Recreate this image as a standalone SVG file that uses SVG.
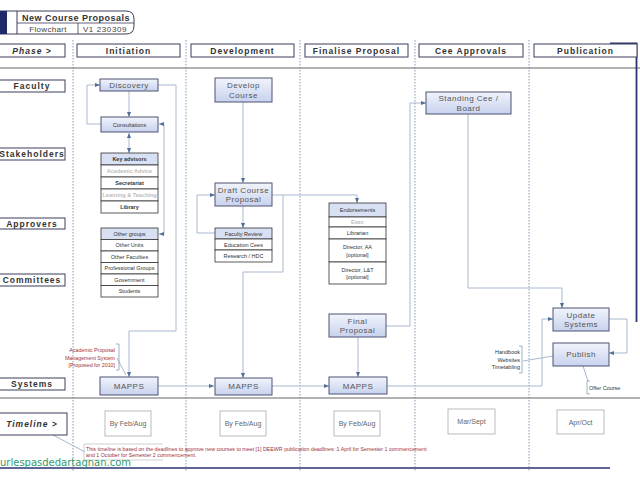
<svg xmlns="http://www.w3.org/2000/svg" width="640" height="480" viewBox="0 0 640 480">
<defs>
<linearGradient id="ng" x1="0" y1="0" x2="0" y2="1">
<stop offset="0" stop-color="#f1f4fc"/>
<stop offset="1" stop-color="#c8d2ee"/>
</linearGradient>
<marker id="arr" viewBox="0 0 10 10" refX="10" refY="5" markerWidth="5" markerHeight="5" orient="auto-start-reverse">
<path d="M0,1 L10,5 L0,9 z" fill="#4e6f98"/>
</marker>
<style>
.lbl{fill:#fff;stroke:#3a3d5c;stroke-width:1}
.lt{font-family:"Liberation Sans",Arial,sans-serif;font-weight:bold;font-size:8.5px;fill:#333;letter-spacing:1px;text-anchor:middle}
.node{fill:url(#ng);stroke:#4f5373;stroke-width:1}
.nt{font-family:"Liberation Sans",Arial,sans-serif;font-size:8px;fill:#555;text-anchor:middle;letter-spacing:0.5px}
.st{fill:#fff;stroke:#333;stroke-width:0.8}
.sh{fill:#d8e0f4;stroke:#333;stroke-width:0.8}
.sx{font-family:"Liberation Sans",Arial,sans-serif;font-size:5.5px;fill:#333;text-anchor:middle}
.fx{font-family:"Liberation Sans",Arial,sans-serif;font-size:5.5px;fill:#bbb;text-anchor:middle;font-weight:bold}
.sep{stroke:#6a7fa0;stroke-width:0.8;stroke-dasharray:1.5,1.5;fill:none}
.hl{stroke:#999;stroke-width:1.5;fill:none}
.c{fill:none;stroke:#a7b9cf;stroke-width:1}
.ca{fill:none;stroke:#a7b9cf;stroke-width:1;marker-end:url(#arr)}
.tl{fill:#fff;stroke:#aaa;stroke-width:0.8}
.tt{font-family:"Liberation Sans",Arial,sans-serif;font-size:7px;fill:#666;text-anchor:middle}
.red{font-family:"Liberation Sans",Arial,sans-serif;font-size:5.3px;fill:#a0303a}
.small{font-family:"Liberation Sans",Arial,sans-serif;font-size:5.5px;fill:#333}
</style>
</defs>
<rect width="640" height="480" fill="#fff"/>

<g id="header">
<path d="M0,11 H126 Q134,11 134,19 V26 Q134,34 126,34 H0 Z" fill="#fff" stroke="#3a3d5c" stroke-width="1"/>
<rect x="0" y="11" width="7" height="23" fill="#1f2a6b"/>
<line x1="17" y1="11" x2="17" y2="34" stroke="#3a3d5c"/>
<line x1="17" y1="23" x2="134" y2="23" stroke="#3a3d5c" stroke-width="0.8"/>
<line x1="78" y1="23" x2="78" y2="34" stroke="#3a3d5c" stroke-width="0.8"/>
<text x="76" y="20.5" font-family="Liberation Sans,Arial,sans-serif" font-weight="bold" font-size="9px" fill="#333" text-anchor="middle" letter-spacing="0.5">New Course Proposals</text>
<text x="48" y="31.5" font-family="Liberation Sans,Arial,sans-serif" font-size="8px" fill="#444" text-anchor="middle" letter-spacing="0.3">Flowchart</text>
<text x="105" y="31.5" font-family="Liberation Sans,Arial,sans-serif" font-size="8px" fill="#444" text-anchor="middle" letter-spacing="0.6">V1 230309</text>
</g>

<g id="grid">
<line x1="0" y1="68" x2="640" y2="68" class="hl"/>
<line x1="0" y1="398" x2="640" y2="398" class="hl"/>
<line x1="0" y1="468" x2="610" y2="468" stroke="#2a3272" stroke-width="1.5"/>
<line x1="73" y1="40" x2="73" y2="472" class="sep"/>
<line x1="186" y1="40" x2="186" y2="472" class="sep"/>
<line x1="300" y1="40" x2="300" y2="472" class="sep"/>
<line x1="415" y1="40" x2="415" y2="472" class="sep"/>
<line x1="529" y1="40" x2="529" y2="472" class="sep"/>
<path d="M610,43.5 H636.5 V322" fill="none" stroke="#2a3272" stroke-width="1.8"/>
</g>

<g id="phases">
<rect class="lbl" x="-1" y="44" width="66" height="13"/>
<text class="lt" x="32" y="53.5" font-style="italic">Phase &gt;</text>
<rect class="lbl" x="77" y="44" width="103" height="13"/>
<text class="lt" x="128.5" y="53.5">Initiation</text>
<rect class="lbl" x="191" y="44" width="103" height="13"/>
<text class="lt" x="242.5" y="53.5">Development</text>
<rect class="lbl" x="305" y="44" width="103" height="13"/>
<text class="lt" x="356.5" y="53.5">Finalise Proposal</text>
<rect class="lbl" x="419" y="44" width="104" height="13"/>
<text class="lt" x="471" y="53.5">Cee Approvals</text>
<rect class="lbl" x="534" y="44" width="103" height="13"/>
<text class="lt" x="585.5" y="53.5">Publication</text>
</g>

<g id="rows">
<rect class="lbl" x="-1" y="80" width="66" height="12"/>
<text class="lt" x="32" y="89">Faculty</text>
<rect class="lbl" x="-1" y="148" width="66" height="12"/>
<text class="lt" x="32" y="157">Stakeholders</text>
<rect class="lbl" x="-1" y="218" width="66" height="11"/>
<text class="lt" x="32" y="226.5">Approvers</text>
<rect class="lbl" x="-1" y="274" width="66" height="12"/>
<text class="lt" x="32" y="283">Committees</text>
<rect class="lbl" x="-1" y="378" width="66" height="12"/>
<text class="lt" x="32" y="387">Systems</text>
</g>

<g id="connectors">
<path class="ca" d="M101,124 H87 V85 H100"/>
<path class="ca" d="M129,91 V117"/>
<path class="ca" d="M129,133 V153" marker-start="url(#arr)"/>
<path class="ca" d="M159,124 H164 V234 H159" marker-start="url(#arr)"/>
<path class="ca" d="M158,85 H176 V331 H129 V377"/>
<path class="c" d="M117,358 L126,375" stroke="#7a8fa8"/>
<path class="ca" d="M158,386 H214"/>
<path class="ca" d="M243,102 V183"/>
<path class="ca" d="M243,206 V228"/>
<path class="ca" d="M215,233 H197 V195 H215"/>
<path class="ca" d="M272,195 H283 V272 H243 V378"/>
<path class="ca" d="M283,195 H357 V203"/>
<path class="ca" d="M272,386 H329"/>
<path class="ca" d="M358,337 V377"/>
<path class="ca" d="M386,326 H410 V103 H426"/>
<path class="ca" d="M468,114 V288 H562 V308"/>
<path class="ca" d="M387,386 H542 V319 H553"/>
<path class="ca" d="M609,319 H627 V353 H609"/>
<path class="c" d="M553,356 L523,361" stroke="#7a8fa8"/>
<path class="c" d="M583,366 L588,381" stroke="#7a8fa8"/>
<path class="c" d="M53,435 L85,452" stroke="#7a8fa8"/>
</g>

<g id="discovery">
<rect class="node" x="100" y="79" width="58" height="12"/>
<text class="nt" x="129" y="88">Discovery</text>
</g>
<g id="consultations">
<rect class="node" x="101" y="117" width="57" height="15"/>
<text class="sx" x="129.5" y="126.5">Consultations</text>
</g>
<g id="key-advisors">
<rect class="sh" x="101" y="153" width="57" height="12"/>
<text class="sx" x="129.5" y="161" font-weight="bold">Key advisors</text>
<rect class="st" x="101" y="165" width="57" height="12"/>
<text class="fx" x="129.5" y="173">Academic Advice</text>
<rect class="st" x="101" y="177" width="57" height="12"/>
<text class="sx" x="129.5" y="185" font-weight="bold">Secretariat</text>
<rect class="st" x="101" y="189" width="57" height="12"/>
<text class="fx" x="129.5" y="197">Learning &amp; Teaching</text>
<rect class="st" x="101" y="201" width="57" height="12"/>
<text class="sx" x="129.5" y="209" font-weight="bold">Library</text>
</g>
<g id="other-groups">
<rect class="sh" x="101" y="228" width="57" height="11.5"/>
<text class="sx" x="129.5" y="235.8">Other groups</text>
<rect class="st" x="101" y="239.5" width="57" height="11.5"/>
<text class="sx" x="129.5" y="247.3">Other Units</text>
<rect class="st" x="101" y="251" width="57" height="11.5"/>
<text class="sx" x="129.5" y="258.8">Other Faculties</text>
<rect class="st" x="101" y="262.5" width="57" height="11.5"/>
<text class="sx" x="129.5" y="270.3">Professional Groups</text>
<rect class="st" x="101" y="274" width="57" height="11.5"/>
<text class="sx" x="129.5" y="281.8">Government</text>
<rect class="st" x="101" y="285.5" width="57" height="11.5"/>
<text class="sx" x="129.5" y="293.3">Students</text>
</g>
<g id="mapps-note">
<path d="M116,344 H119 V370 H116" fill="none" stroke="#7a8fa8" stroke-width="0.7"/>
<text class="red" x="115" y="352" text-anchor="end">Academic Proposal</text>
<text class="red" x="115" y="359.5" text-anchor="end">Management System</text>
<text class="red" x="115" y="367" text-anchor="end">[Proposed for 2010]</text>
</g>
<g id="mapps-1">
<rect class="node" x="100" y="377" width="58" height="18"/>
<text class="nt" x="129" y="389">MAPPS</text>
</g>

<g id="develop-course">
<rect class="node" x="215" y="78" width="57" height="24"/>
<text class="nt" x="243.5" y="88">Develop</text>
<text class="nt" x="243.5" y="97.5">Course</text>
</g>
<g id="draft-course-proposal">
<rect class="node" x="215" y="183" width="57" height="23"/>
<text class="nt" x="243.5" y="192.5">Draft Course</text>
<text class="nt" x="243.5" y="202">Proposal</text>
</g>
<g id="faculty-review">
<rect class="sh" x="215" y="228" width="57" height="11"/>
<text class="sx" x="243.5" y="235.5">Faculty Review</text>
<rect class="st" x="215" y="239" width="57" height="11"/>
<text class="sx" x="243.5" y="246.5">Education Cees</text>
<rect class="st" x="215" y="250" width="57" height="12"/>
<text class="sx" x="243.5" y="258">Research / HDC</text>
</g>
<g id="mapps-2">
<rect class="node" x="215" y="378" width="57" height="17"/>
<text class="nt" x="243.5" y="389">MAPPS</text>
</g>

<g id="endorsements">
<rect class="sh" x="329" y="203" width="57" height="14"/>
<text class="sx" x="357.5" y="212">Endorsements</text>
<rect class="st" x="329" y="217" width="57" height="10"/>
<text class="fx" x="357.5" y="224" font-weight="normal">Exec</text>
<rect class="st" x="329" y="227" width="57" height="12"/>
<text class="sx" x="357.5" y="235">Librarian</text>
<rect class="st" x="329" y="239" width="57" height="23"/>
<text class="sx" x="357.5" y="249">Director, AA</text>
<text class="sx" x="357.5" y="256.5">[optional]</text>
<rect class="st" x="329" y="262" width="57" height="22"/>
<text class="sx" x="357.5" y="271.5">Director, L&amp;T</text>
<text class="sx" x="357.5" y="279">[optional]</text>
</g>
<g id="final-proposal">
<rect class="node" x="329" y="314" width="57" height="23"/>
<text class="nt" x="357.5" y="323.5">Final</text>
<text class="nt" x="357.5" y="333">Proposal</text>
</g>
<g id="mapps-3">
<rect class="node" x="329" y="377" width="58" height="17"/>
<text class="nt" x="358" y="388.5">MAPPS</text>
</g>

<g id="standing-cee">
<rect class="node" x="426" y="92" width="85" height="22"/>
<text class="nt" x="468.5" y="101">Standing Cee  /</text>
<text class="nt" x="468.5" y="110.5">Board</text>
</g>

<g id="update-systems">
<rect class="node" x="553" y="308" width="56" height="23"/>
<text class="nt" x="581" y="317.5">Update</text>
<text class="nt" x="581" y="327">Systems</text>
</g>
<g id="publish">
<rect class="node" x="553" y="343" width="56" height="23"/>
<text class="nt" x="581" y="357">Publish</text>
</g>
<g id="handbook-note">
<path d="M519,346 H522 V373 H519" fill="none" stroke="#7a8fa8" stroke-width="0.7"/>
<text class="small" x="520" y="354" text-anchor="end">Handbook</text>
<text class="small" x="520" y="361.5" text-anchor="end">Websites</text>
<text class="small" x="520" y="369" text-anchor="end">Timetabling</text>
</g>
<g id="offer-course">
<path d="M590,381 H587 V394 H590" fill="none" stroke="#7a8fa8" stroke-width="0.7"/>
<text class="small" x="589" y="390">Offer Course</text>
</g>

<g id="timeline">
<rect class="lbl" x="-1" y="413" width="68" height="22"/>
<text class="lt" x="32" y="427" font-style="italic">Timeline &gt;</text>
<rect class="tl" x="105" y="411" width="46" height="25"/>
<text class="tt" x="128" y="426">By Feb/Aug</text>
<rect class="tl" x="220" y="411" width="46" height="25"/>
<text class="tt" x="243" y="426">By Feb/Aug</text>
<rect class="tl" x="334" y="411" width="46" height="25"/>
<text class="tt" x="357" y="426">By Feb/Aug</text>
<rect class="tl" x="448" y="409" width="47" height="25"/>
<text class="tt" x="471.5" y="424">Mar/Sept</text>
<rect class="tl" x="557" y="410" width="47" height="24"/>
<text class="tt" x="580.5" y="424.5">Apr/Oct</text>
</g>
<g id="timeline-note">
<path d="M163,444 H84 V460 H163" fill="none" stroke="#bbb" stroke-width="0.7"/>
<text class="red" x="86" y="450.5">This timeline is based on the deadlines to approve new courses to meet [1] DEEWR publication deadlines: 1 April for Semester 1 commencement</text>
<text class="red" x="86" y="457">and 1 October for Semester 2 commencement.</text>
</g>
<text x="0" y="466" font-family="DejaVu Sans,sans-serif" font-size="10px" fill="#2f9a6c">urlespasdedartagnan.com</text>
</svg>
